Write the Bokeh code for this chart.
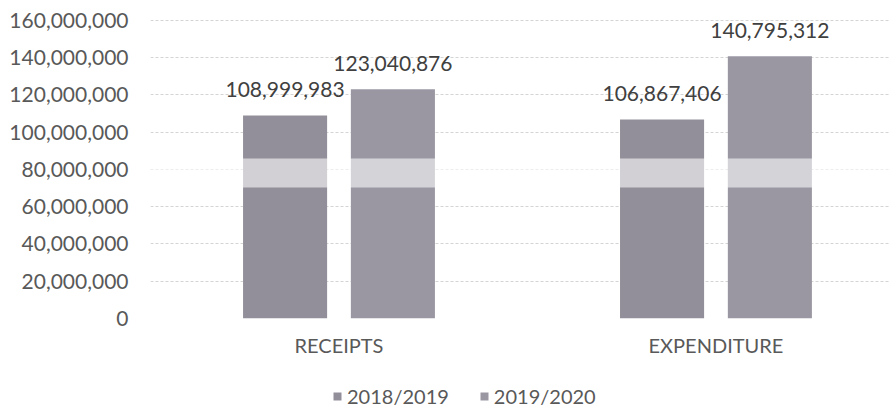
from bokeh.plotting import figure
from bokeh.layouts import column
from bokeh.models import (ColumnDataSource, Range1d, FixedTicker, NumeralTickFormatter,
                          Legend, LegendItem, LabelSet, BoxAnnotation)
from bokeh.core.properties import value
from bokeh.transform import dodge
from bokeh.embed import file_html
from bokeh.resources import INLINE

categories = ["RECEIPTS", "EXPENDITURE"]
series_names = ["2018/2019", "2019/2020"]
values_2018_2019 = [108999983, 106867406]
values_2019_2020 = [123040876, 140795312]
y_ticks = [0, 20000000, 40000000, 60000000, 80000000, 100000000, 120000000, 140000000, 160000000]

FONT = "Lato"
COLORS = ["#938f9a", "#9a97a2"]

src = ColumnDataSource(data=dict(
    x=list(range(len(categories))),
    a=values_2018_2019,
    b=values_2019_2020,
    la=[f"{v:,}" for v in values_2018_2019],
    lb=[f"{v:,}" for v in values_2019_2020],
))

p = figure(width=890, height=362, output_backend="svg", toolbar_location=None,
           x_range=Range1d(-0.5, 1.463), y_range=Range1d(0, 166400000),
           min_border_left=150, min_border_right=0, min_border_top=8, min_border_bottom=44)
p.outline_line_color = None
p.background_fill_color = "white"
p.border_fill_color = "white"

off = 0.143
w = 0.223
r1 = p.vbar(x=dodge("x", -off), top="a", width=w, source=src,
            fill_color=COLORS[0], line_color=None)
r2 = p.vbar(x=dodge("x", off), top="b", width=w, source=src,
            fill_color=COLORS[1], line_color=None)

band = BoxAnnotation(bottom=70300000, top=85900000, fill_color="white", fill_alpha=0.58,
                     line_color=None)
p.add_layout(band)

for field, lab, dx in (("a", "la", -off), ("b", "lb", off)):
    p.add_layout(LabelSet(x=dodge("x", dx), y=field, text=lab, source=src,
                          text_align="center", text_baseline="bottom", y_offset=18,
                          text_font=value(FONT), text_font_size="21px", text_color="#404040"))

p.xaxis.ticker = FixedTicker(ticks=list(range(len(categories))))
p.xaxis.major_label_overrides = {i: c for i, c in enumerate(categories)}
p.xaxis.axis_line_color = None
p.xaxis.major_tick_line_color = None
p.xaxis.minor_tick_line_color = None
p.xaxis.major_tick_out = 0
p.xaxis.major_tick_in = 0
p.xaxis.minor_tick_out = 0
p.xaxis.major_label_standoff = 14
p.xaxis.major_label_text_font = FONT
p.xaxis.major_label_text_font_size = "20px"
p.xaxis.major_label_text_color = "#595959"

p.yaxis.ticker = FixedTicker(ticks=y_ticks)
p.yaxis.formatter = NumeralTickFormatter(format="0,0")
p.yaxis.axis_line_color = None
p.yaxis.major_tick_line_color = None
p.yaxis.minor_tick_line_color = None
p.yaxis.major_tick_out = 0
p.yaxis.major_tick_in = 0
p.yaxis.minor_tick_out = 0
p.yaxis.major_label_standoff = 22
p.yaxis.major_label_text_font = FONT
p.yaxis.major_label_text_font_size = "21px"
p.yaxis.major_label_text_color = "#595959"

p.xgrid.grid_line_color = None
p.ygrid.grid_line_color = "#d4d4d4"
p.ygrid.grid_line_dash = "3 2"

# legend strip below the chart (its frame is aligned with the chart's frame)
lg = figure(width=890, height=46, output_backend="svg", toolbar_location=None,
            x_range=Range1d(0, 1), y_range=Range1d(0, 1),
            min_border_left=150, min_border_right=0,
            min_border_top=0, min_border_bottom=0)
lg.axis.visible = False
lg.grid.visible = False
lg.outline_line_color = None
lg.border_fill_color = "white"
dummy = ColumnDataSource(data=dict(x=[5], top=[5]))
d1 = lg.vbar(x="x", top="top", width=0.1, source=dummy, fill_color=COLORS[0], line_color=None)
d2 = lg.vbar(x="x", top="top", width=0.1, source=dummy, fill_color=COLORS[1], line_color=None)
legend = Legend(items=[LegendItem(label=series_names[0], renderers=[d1]),
                       LegendItem(label=series_names[1], renderers=[d2])],
                orientation="horizontal", location=(182, 0), padding=0, margin=0,
                label_text_font=FONT, label_text_font_size="20px", label_text_color="#595959",
                glyph_width=10, glyph_height=10, label_standoff=5, spacing=30,
                border_line_color=None, background_fill_alpha=0)
lg.add_layout(legend)

layout = column(p, lg, spacing=0)
open("out.html", "w").write(file_html(layout, INLINE))
